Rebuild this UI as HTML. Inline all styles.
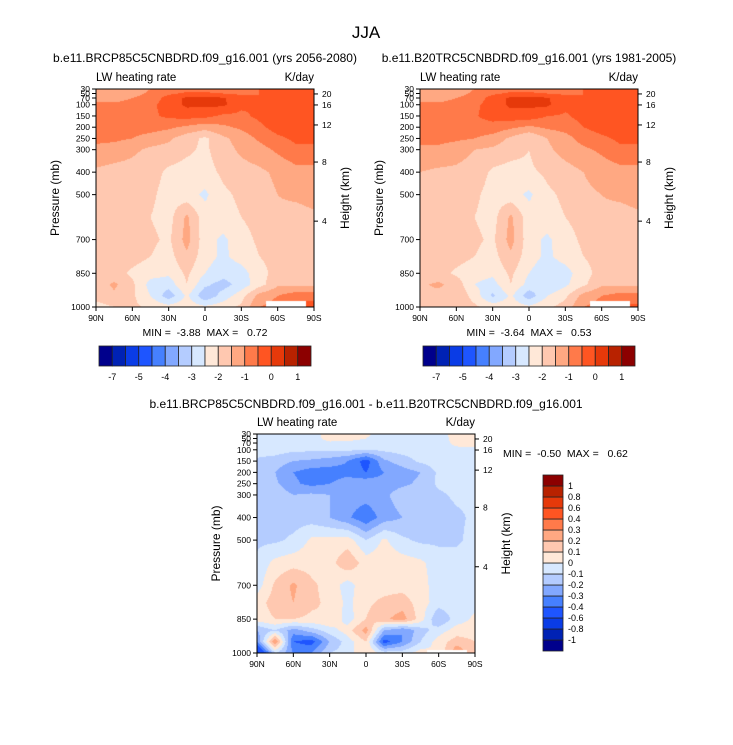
<!DOCTYPE html>
<html><head><meta charset="utf-8">
<style>
html,body{margin:0;padding:0;background:#fff;}
#root{position:relative;width:733px;height:745px;overflow:hidden;font-family:"Liberation Sans",sans-serif;}
canvas{position:absolute;}
svg{position:absolute;left:0;top:0;}
svg text{white-space:pre;}
</style></head>
<body>
<div id="root">
<canvas id="c1" width="218" height="218" style="left:96px;top:89px"></canvas>
<canvas id="c2" width="218" height="218" style="left:420px;top:89px"></canvas>
<canvas id="c3" width="218" height="219" style="left:257px;top:434px"></canvas>
<svg id="ov" width="733" height="745"></svg>
</div>
<script>
// ---- data ----
const lats = [90,75,60,45,30,15,0,-15,-30,-45,-60,-75,-90];
const levels = [30,50,70,100,150,200,250,300,400,500,600,700,775,850,900,950,1000];
const fieldRcp = [
[-1.25,-1.25,-1.25,-1.0,-0.75,-0.75,-0.75,-0.75,-0.75,-0.5,-0.5,-0.5,-0.5],
[-1.25,-1.25,-1.2,-0.9,-0.6,-0.4,-0.4,-0.5,-0.6,-0.5,-0.4,-0.4,-0.4],
[-1.2,-1.2,-1.0,-0.8,-0.3,0.1,0.1,0.05,-0.3,-0.5,-0.3,-0.3,-0.3],
[-0.9,-0.9,-0.8,-0.6,-0.3,0.1,0.1,0.1,-0.4,-0.5,-0.3,-0.3,-0.3],
[-0.75,-0.75,-0.75,-0.6,-0.4,-0.3,-0.35,-0.6,-0.6,-0.4,-0.2,-0.2,-0.2],
[-0.8,-0.8,-0.8,-0.8,-0.9,-1.1,-1.3,-1.1,-0.9,-0.6,-0.3,-0.25,-0.25],
[-0.9,-0.9,-1.0,-1.2,-1.4,-1.8,-2.1,-1.6,-1.3,-0.9,-0.6,-0.4,-0.4],
[-1.1,-1.2,-1.4,-1.6,-1.7,-1.9,-2.1,-1.7,-1.4,-1.2,-0.9,-0.6,-0.6],
[-1.6,-1.7,-1.7,-1.8,-2.1,-2.2,-2.2,-1.9,-1.7,-1.6,-1.4,-1.2,-1.2],
[-1.8,-1.8,-1.8,-1.9,-2.2,-2.3,-2.6,-2.1,-1.9,-1.7,-1.5,-1.4,-1.3],
[-1.8,-1.8,-1.8,-2.0,-2.2,-1.4,-2.3,-2.2,-2.0,-1.8,-1.6,-1.7,-1.6],
[-1.8,-1.8,-1.8,-1.9,-2.1,-1.3,-2.3,-2.6,-2.2,-1.9,-1.8,-1.8,-1.8],
[-1.7,-1.7,-1.8,-2.0,-2.2,-1.6,-2.3,-2.6,-2.3,-2.0,-1.8,-1.8,-1.8],
[-2.0,-1.8,-2.1,-2.3,-2.4,-1.9,-2.5,-2.8,-2.7,-2.2,-1.8,-1.8,-1.8],
[-1.8,-1.4,-1.9,-2.7,-2.8,-2.0,-2.9,-3.2,-2.8,-2.2,-1.6,-1.6,-1.6],
[-1.8,-1.6,-1.9,-2.5,-3.3,-2.4,-3.4,-2.8,-2.2,-1.3,-1.0,-0.7,-0.7],
[-2.2,-2.0,-1.9,-2.1,-2.3,-2.2,-2.4,-2.2,-1.9,-1.0,-0.8,-0.3,-0.3]];
const fieldB20 = [
[-1.25,-1.25,-1.25,-1.0,-0.75,-0.75,-0.75,-0.75,-0.75,-0.5,-0.5,-0.5,-0.5],
[-1.25,-1.25,-1.2,-0.9,-0.6,-0.4,-0.4,-0.5,-0.6,-0.5,-0.4,-0.4,-0.4],
[-1.2,-1.2,-1.0,-0.8,-0.3,0.1,0.1,0.05,-0.3,-0.5,-0.3,-0.3,-0.3],
[-0.9,-0.9,-0.8,-0.6,-0.3,0.1,0.1,0.1,-0.4,-0.5,-0.3,-0.3,-0.3],
[-0.7,-0.7,-0.7,-0.55,-0.3,-0.2,-0.2,-0.5,-0.55,-0.35,-0.2,-0.2,-0.2],
[-0.75,-0.75,-0.7,-0.7,-0.7,-0.9,-1.1,-0.9,-0.8,-0.5,-0.3,-0.25,-0.25],
[-0.85,-0.85,-0.9,-1.0,-1.2,-1.6,-2.0,-1.5,-1.2,-0.8,-0.6,-0.4,-0.4],
[-1.1,-1.1,-1.3,-1.5,-1.6,-1.8,-2.0,-1.6,-1.3,-1.1,-0.9,-0.6,-0.6],
[-1.5,-1.6,-1.6,-1.7,-2.1,-2.2,-2.1,-1.9,-1.7,-1.5,-1.3,-1.2,-1.2],
[-1.7,-1.7,-1.8,-1.9,-2.2,-2.3,-2.6,-2.1,-1.9,-1.6,-1.5,-1.4,-1.3],
[-1.8,-1.8,-1.8,-2.0,-2.2,-1.4,-2.3,-2.2,-2.0,-1.8,-1.6,-1.7,-1.6],
[-1.8,-1.8,-1.8,-1.9,-2.1,-1.3,-2.3,-2.6,-2.2,-1.9,-1.8,-1.8,-1.8],
[-1.7,-1.7,-1.8,-2.0,-2.2,-1.6,-2.3,-2.6,-2.3,-2.0,-1.8,-1.8,-1.8],
[-2.0,-1.8,-2.1,-2.3,-2.4,-1.9,-2.5,-2.8,-2.7,-2.2,-1.8,-1.8,-1.8],
[-1.6,-1.4,-1.7,-2.5,-2.7,-2.0,-2.7,-3.0,-2.6,-2.1,-1.6,-1.6,-1.6],
[-1.5,-1.7,-1.6,-2.2,-3.1,-2.4,-3.3,-2.5,-2.1,-1.3,-1.0,-0.8,-0.8],
[-1.7,-2.0,-1.7,-1.9,-2.2,-2.2,-2.4,-2.1,-1.8,-1.0,-0.8,-0.4,-0.4]];
const fieldDiff = [
[-0.05,-0.05,-0.05,-0.05,0.05,0.05,0.02,-0.05,-0.05,-0.05,-0.05,0.05,0.05],
[-0.05,-0.05,-0.05,-0.05,0.04,0.04,0.0,-0.05,-0.05,-0.05,-0.05,0.04,0.05],
[-0.05,-0.05,-0.05,-0.05,-0.02,-0.03,-0.05,-0.05,-0.05,-0.05,-0.05,0.03,0.05],
[-0.05,-0.05,-0.08,-0.08,-0.08,-0.08,-0.1,-0.08,-0.06,-0.05,-0.05,-0.03,-0.03],
[-0.12,-0.15,-0.2,-0.22,-0.25,-0.3,-0.45,-0.22,-0.15,-0.08,-0.05,-0.05,-0.05],
[-0.15,-0.2,-0.3,-0.35,-0.35,-0.33,-0.4,-0.3,-0.25,-0.2,-0.08,-0.06,-0.06],
[-0.15,-0.18,-0.28,-0.33,-0.3,-0.25,-0.22,-0.25,-0.22,-0.18,-0.08,-0.06,-0.06],
[-0.1,-0.13,-0.2,-0.18,-0.2,-0.25,-0.25,-0.22,-0.15,-0.15,-0.12,-0.08,-0.08],
[-0.12,-0.12,-0.15,-0.15,-0.2,-0.28,-0.38,-0.25,-0.2,-0.15,-0.15,-0.12,-0.08],
[-0.12,-0.12,-0.08,0.02,0.03,0.05,-0.1,0.02,-0.08,-0.12,-0.12,-0.12,-0.06],
[-0.08,0.03,0.06,0.06,0.06,0.18,0.05,0.06,0.05,0.02,-0.05,-0.05,-0.05],
[-0.05,0.12,0.22,0.12,0.06,-0.05,0.08,0.06,0.06,0.04,-0.05,-0.05,-0.05],
[0.05,0.15,0.2,0.12,0.08,-0.03,0.08,0.12,0.15,0.05,-0.05,-0.03,-0.03],
[0.05,0.1,0.1,0.08,0.1,-0.05,0.1,0.18,0.25,0.05,-0.2,-0.05,0.02],
[-0.2,-0.1,-0.25,-0.15,-0.05,0.05,0.25,-0.2,-0.3,-0.15,-0.05,0.05,0.05],
[-0.3,0.3,-0.4,-0.45,-0.2,-0.05,0.1,-0.45,-0.3,-0.1,0.05,0.15,0.1],
[-0.7,-0.1,-0.3,-0.3,-0.1,-0.05,0.1,-0.05,-0.05,0.05,0.0,0.3,0.1]];
const boundsAbs = [-7,-6,-5,-4.5,-4,-3.5,-3,-2.5,-2,-1.5,-1,-0.5,0,0.5,1];
const labelsAbs = ["-7","-5","-4","-3","-2","-1","0","1"];
const boundsDiff = [-1,-0.8,-0.6,-0.4,-0.3,-0.2,-0.1,0,0.1,0.2,0.3,0.4,0.6,0.8,1];
const labelsDiff = ["-1","-0.8","-0.6","-0.4","-0.3","-0.2","-0.1","0","0.1","0.2","0.3","0.4","0.6","0.8","1"];
const palette = ["#00008c","#0022b4","#0a3ce6","#1e55ff","#4680ff","#82a8ff","#b4ccff","#d7e8ff","#ffe8d8","#ffc8b0","#ffa882","#ff7a4a","#ff5522","#e6390a","#b82200","#8c0000"];
const latTicks = [90,60,30,0,-30,-60,-90];
const latLabels = ["90N","60N","30N","0","30S","60S","90S"];
const presTicks = [30,50,70,100,150,200,250,300,400,500,700,850,1000];
const heightTicks = [4,8,12,16,20];
const heightPres = [618,355,190,101,52];

// ---- rendering ----
function hex(c){return [parseInt(c.substr(1,2),16),parseInt(c.substr(3,2),16),parseInt(c.substr(5,2),16)];}
const palRGB = palette.map(hex);
function colorIdx(v,b){let i=0;while(i<b.length&&v>=b[i])i++;return i;}
function sample(field,lat,p){
  let i=0;while(i<lats.length-2&&lat<lats[i+1])i++;
  let j=0;while(j<levels.length-2&&p>levels[j+1])j++;
  const tx=(lats[i]-lat)/(lats[i]-lats[i+1]);
  const ty=(p-levels[j])/(levels[j+1]-levels[j]);
  const a=field[j][i],b=field[j][i+1],c=field[j+1][i],d=field[j+1][i+1];
  return (a*(1-tx)+b*tx)*(1-ty)+(c*(1-tx)+d*tx)*ty;
}
function drawField(id,field,bounds,maskLat,maskP){
  const cv=document.getElementById(id),ctx=cv.getContext('2d');
  const w=cv.width,h=cv.height,img=ctx.createImageData(w,h);
  for(let y=0;y<h;y++){const p=30+(y+0.5)/h*970;
    for(let x=0;x<w;x++){const lat=90-(x+0.5)/w*180;const k=(y*w+x)*4;
      let c=[255,255,255];
      if(!(lat<maskLat[0]&&lat>maskLat[1]&&p>maskP)) c=palRGB[colorIdx(sample(field,lat,p),bounds)];
      img.data[k]=c[0];img.data[k+1]=c[1];img.data[k+2]=c[2];img.data[k+3]=255;}}
  ctx.putImageData(img,0,0);
}
drawField('c1',fieldRcp,boundsAbs,[-50,-83],975);
drawField('c2',fieldB20,boundsAbs,[-50,-83],975);
drawField('c3',fieldDiff,boundsDiff,[-50,-83],985);

const NS='http://www.w3.org/2000/svg',ov=document.getElementById('ov');
function el(tag,attrs,text){const e=document.createElementNS(NS,tag);for(const k in attrs)e.setAttribute(k,attrs[k]);if(text!==undefined)e.textContent=text;ov.appendChild(e);return e;}
function txt(x,y,s,size,anchor,name,rot){
  const e=el('text',{x:x,y:y,'font-size':size,'text-anchor':anchor||'start','font-family':'Liberation Sans, sans-serif',fill:'#000'},s);
  if(rot)e.setAttribute('transform','rotate(-90 '+x+' '+y+')');
  
  
  return e;
}
function panel(x0,y0,w,h,pfx){
  const xs=lat=>x0+(90-lat)/180*w, ys=p=>y0+(p-30)/970*h;
  const fr=el('rect',{x:x0,y:y0,width:w,height:h,fill:'none',stroke:'#000','stroke-width':1});
  
  
  latTicks.forEach((t,i)=>{
    el('line',{x1:xs(t),x2:xs(t),y1:y0+h,y2:y0+h+4,stroke:'#000'});
    txt(xs(t),y0+h+14,latLabels[i],8.5,'middle',pfx+'-x-tick-label');
  });
  presTicks.forEach(p=>{
    el('line',{x1:x0-4,x2:x0,y1:ys(p),y2:ys(p),stroke:'#000'});
    txt(x0-6,ys(p)+3,String(p),8.5,'end',pfx+'-y-tick-label');
  });
  heightTicks.forEach((z,i)=>{
    el('line',{x1:x0+w,x2:x0+w+4,y1:ys(heightPres[i]),y2:ys(heightPres[i]),stroke:'#000'});
    txt(x0+w+8,ys(heightPres[i])+3,String(z),8.5,'start',pfx+'-height-tick-label');
  });
  txt(x0,y0-8,'LW heating rate',11.5,'start',pfx+'-variable-label');
  txt(x0+w,y0-8,'K/day',11.5,'end',pfx+'-units-label');
  txt(x0-37,y0+h/2,'Pressure (mb)',12,'middle',pfx+'-y-axis-title',true);
  txt(x0+w+35,y0+h/2,'Height (km)',12,'middle',pfx+'-right-axis-title',true);
}
panel(96,89,218,218,'left');
panel(420,89,218,218,'right');
panel(257,434,218,219,'diff');

txt(366,38,'JJA',17,'middle','figure-title');
txt(205,62,'b.e11.BRCP85C5CNBDRD.f09_g16.001 (yrs 2056-2080)',12,'middle','left-panel-title');
txt(529,62,'b.e11.B20TRC5CNBDRD.f09_g16.001 (yrs 1981-2005)',12,'middle','right-panel-title');
txt(366,408,'b.e11.BRCP85C5CNBDRD.f09_g16.001 - b.e11.B20TRC5CNBDRD.f09_g16.001',12,'middle','diff-panel-title');
txt(205,336,'MIN =  -3.88  MAX =   0.72',10.5,'middle','left-min-max');
txt(529,336,'MIN =  -3.64  MAX =   0.53',10.5,'middle','right-min-max');
txt(503,457,'MIN =  -0.50  MAX =   0.62',10.5,'start','diff-min-max');

function hbar(x0,y0,w,h,pfx){
  const bw=w/palette.length;
  palette.forEach((c,i)=>{
    const r=el('rect',{x:x0+i*bw,y:y0,width:bw,height:h,fill:c,stroke:'#222','stroke-width':0.8});
    
    
  });
  labelsAbs.forEach((s,i)=>txt(x0+(2*i+1)*bw,y0+h+14,s,9,'middle',pfx+'-colorbar-label'));
}
hbar(99,346,212,20,'left');
hbar(423,346,212,20,'right');
(function(){
  const x0=543,y0=475,w=20,h=176,bh=h/palette.length;
  palette.forEach((c,i)=>{
    const r=el('rect',{x:x0,y:y0+(palette.length-1-i)*bh,width:w,height:bh,fill:c,stroke:'#222','stroke-width':0.8});
    
    
  });
  labelsDiff.forEach((s,i)=>txt(x0+w+5,y0+(palette.length-1-i)*bh+3,s,9,'start','diff-colorbar-label'));
})();
</script>
</body></html>
